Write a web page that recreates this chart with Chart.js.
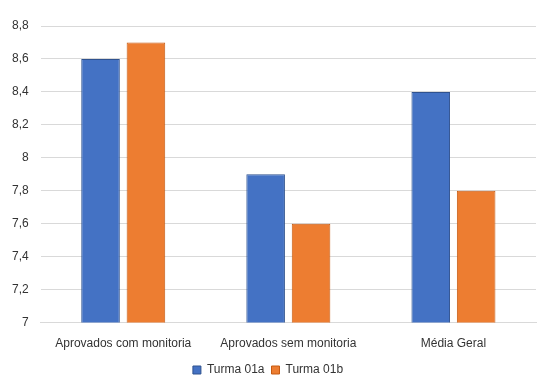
<!DOCTYPE html>
<html>
<head>
<meta charset="utf-8">
<script src="https://cdn.jsdelivr.net/npm/chart.js@4"></script>
<style>
  html, body { margin: 0; padding: 0; background: #fff; }
  #wrap { width: 542px; height: 381px; }
</style>
</head>
<body>
<div id="wrap"><canvas id="myChart" width="542" height="381"></canvas></div>
<script>
// data
const categories = ["Aprovados com monitoria", "Aprovados sem monitoria", "Média Geral"];
const turma01a = [8.6, 7.9, 8.4];
const turma01b = [8.7, 7.6, 7.8];
const seriesNames = ["Turma 01a", "Turma 01b"];

const fontFamily = "'Liberation Sans', sans-serif";

var config = {
  type: 'bar',
  data: {
    labels: categories,
    datasets: [{
      label: seriesNames[0],
      data: turma01a,
      backgroundColor: '#4472C4',
      borderColor: '#2F528F',
      borderWidth: 1,
      borderSkipped: false,
      categoryPercentage: 0.55,
      barPercentage: 0.85
    }, {
      label: seriesNames[1],
      data: turma01b,
      backgroundColor: '#ED7D31',
      borderColor: '#C55A11',
      borderWidth: 1,
      borderSkipped: false,
      categoryPercentage: 0.55,
      barPercentage: 0.85
    }]
  },
  options: {
    responsive: false,
    animation: false,
    layout: { padding: { top: 26, left: 0, right: 6, bottom: -5 } },
    plugins: {
      legend: {
        position: 'bottom',
        labels: {
          boxWidth: 8, boxHeight: 8, padding: 7,
          color: '#333333',
          font: { family: fontFamily, size: 12 }
        }
      },
      tooltip: { enabled: false }
    },
    scales: {
      y: {
        min: 7, max: 8.8,
        ticks: {
          stepSize: 0.2,
          padding: 12,
          color: '#333333',
          font: { family: fontFamily, size: 12 },
          callback: v => String(Math.round(v * 10) / 10).replace('.', ',')
        },
        grid: { color: '#d9d9d9', drawTicks: false, lineWidth: 1 },
        border: { display: false }
      },
      x: {
        ticks: { color: '#333333', padding: 6, font: { family: fontFamily, size: 12 } },
        grid: { display: false },
        border: { color: '#d9d9d9' }
      }
    }
  }
};

var myChart = new Chart(document.getElementById('myChart'), config);
</script>
</body>
</html>
